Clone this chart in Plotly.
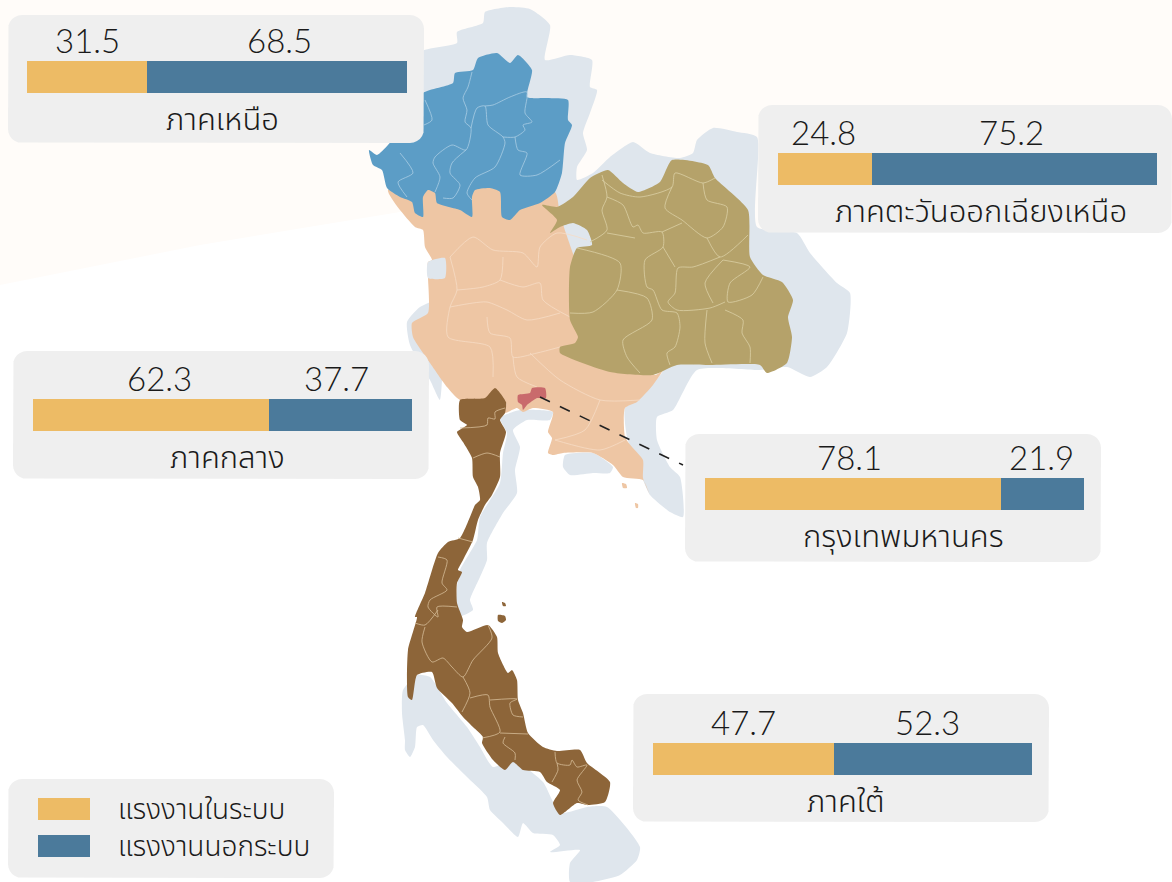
import math
import plotly.graph_objects as go

# ---------- chart values ----------
REGIONS = ["ภาคเหนือ", "ภาคตะวันออกเฉียงเหนือ", "ภาคกลาง", "กรุงเทพมหานคร", "ภาคใต้"]
FORMAL = [31.5, 24.8, 62.3, 78.1, 47.7]
INFORMAL = [68.5, 75.2, 37.7, 21.9, 52.3]
SERIES_NAMES = ["แรงงานในระบบ", "แรงงานนอกระบบ"]

FONT = "Lato, 'Noto Sans Thai', 'Noto Sans', sans-serif"
GOLD, BLUE = "#edbb65", "#4b7a9b"
PANEL = "#efefef"
TEXT = "#1a1a1a"

# ---------- layout boxes (pixels of the 1172x882 page) ----------
W, H = 1172, 882
PANELS = [(8, 15, 424, 143), (758, 105, 1172, 233), (13, 351, 429, 479),
          (685, 434, 1101, 562), (633, 694, 1049, 822)]
BARS = [(27, 61, 407, 93), (778, 153, 1157, 185), (33, 399, 412, 431),
        (705, 478, 1084, 510), (653, 743, 1032, 775)]
LABEL_SHIFT = [(1, 3), (-2, -3), (8, -4), (-4, -1), (0, -5)]
TITLE_SHIFT = [5, 13, 5, 9, 3]

# ---------- map outlines, in page pixels ----------
GREY_MAIN = [(420,52),(457,43),(457,32),(483,23),(485,12),(510,7),(530,9),(550,25),(545,60),(570,55),
    (592,60),(590,87),(597,90),(590,113),(583,133),(587,150),(577,167),(577,180),(593,173),(610,157),
    (633,142),(650,153),(680,158),(693,153),(697,140),(713,128),(737,132),(757,137),(757,227),(797,233),
    (810,253),(837,283),(850,293),(847,333),(827,367),(810,377),(787,367),(760,370),(697,370),(673,410),
    (657,417),(657,440),(670,467),(680,477),(683,517),(670,512),(650,495),(643,480),(627,437),(625,408),
    (637,400),(653,383),(663,370),(600,300),(450,200),(400,100)]
GREY_WEST = [(407,322),(420,307),(440,300),(440,400),(430,380),(410,345)]
GREY_LAKE = [(428,262),(445,258),(445,278),(428,278)]
GREY_ISTHMUS = [(500,418),(520,410),(553,412),(550,420),(527,420),(513,430),(520,447),(515,470),(517,493),
    (503,513),(487,543),(487,560),(480,577),(470,600),(473,610),(457,617),(457,587),(460,570),(477,540),
    (480,517),(500,483),(503,453),(507,433)]
GREY_GULF = [(565,455),(593,453),(613,467),(610,473),(593,473),(570,475),(563,467)]
GREY_SOUTH = [(403,690),(417,675),(430,677),(447,703),(467,727),(480,747),(493,767),(513,760),(543,782),
    (560,813),(587,807),(607,807),(640,847),(637,860),(620,875),(593,882),(570,882),(570,863),(580,850),
    (550,852),(560,845),(553,835),(533,833),(523,823),(518,837),(503,823),(490,810),(487,797),(467,777),
    (447,757),(433,740),(423,725),(417,727),(415,747),(410,757),(405,750),(405,740),(402,713)]
CENTRAL = [(388,190),(415,227),(423,230),(425,247),(432,260),(428,262),(428,277),(428,313),(412,323),(413,337),
    (430,363),(447,387),(460,400),(506,403),(505,413),(517,408),(523,412),(533,408),(553,412),(548,432),
    (552,438),(548,453),(553,455),(563,453),(593,453),(613,465),(623,477),(643,480),(650,495),(643,478),
    (643,460),(632,447),(625,437),(625,408),(637,402),(653,385),(663,370),(655,375),(600,320),(560,215),
    (555,192),(470,180)]
CENTRAL_ISLE_A = [(622,483),(626,484),(627,488),(623,488)]
CENTRAL_ISLE_B = [(635,503),(638,504),(638,508),(636,508)]
NORTH = [(369,150),(377,155),(388,145),(400,130),(423,93),(453,83),(455,73),(473,70),(478,58),(497,53),(510,63),
    (518,55),(532,70),(527,97),(547,98),(568,100),(568,120),(572,125),(565,143),(562,173),(555,192),
    (540,203),(520,210),(510,220),(502,217),(500,192),(490,188),(475,190),(472,197),(472,217),(460,210),
    (437,203),(435,193),(428,190),(423,197),(423,217),(415,213),(412,202),(400,197),(387,188),(382,170),(373,165)]
NORTHEAST = [(542,205),(557,207),(573,197),(590,178),(608,170),(623,183),(638,192),(660,182),(672,160),(708,165),
    (715,178),(748,210),(750,257),(763,275),(782,282),(793,300),(788,317),(792,337),(787,363),(767,373),
    (760,365),(710,365),(677,365),(653,375),(610,372),(560,353),(560,347),(575,343),(578,337),(570,320),
    (570,267),(577,248),(592,245),(587,230),(573,223),(560,227),(550,233),(557,220)]
SOUTH = [(460,400),(485,398),(495,388),(506,402),(505,413),(500,420),(506,432),(500,453),(500,477),(492,495),
    (485,505),(478,520),(473,540),(463,560),(458,570),(462,572),(457,583),(457,603),(463,620),(462,627),
    (467,632),(488,625),(497,637),(498,653),(508,673),(512,670),(517,680),(518,700),(523,713),(528,733),
    (543,747),(557,751),(580,750),(587,763),(610,782),(605,802),(588,805),(577,803),(560,815),(553,803),
    (560,790),(547,782),(540,772),(523,770),(513,762),(505,770),(493,760),(482,743),(483,737),(473,727),
    (463,717),(452,703),(437,688),(432,672),(417,675),(412,700),(408,697),(408,650),(417,617),(415,617),
    (425,593),(438,553),(448,542),(460,538),(470,517),(475,505),(480,500),(478,487),(473,477),(472,458),
    (463,442),(457,432),(467,425),(460,420)]
SOUTH_ISLE_A = [(502,602),(505,603),(506,606),(503,606)]
SOUTH_ISLE_B = [(498,615),(505,616),(506,620),(502,623),(498,621)]
BANGKOK = [(518,395),(530,393),(532,388),(545,388),(546,398),(537,398),(527,405),(523,410),(522,405),(518,402)]
LEADER = [(540,397),(683,465)]

NORTH_LINES = [
    [(472,72),(468,87),(463,98),(467,110),(465,122),(471,128),(466,150),(452,145),(435,157),(433,163),(440,177),(435,192)],
    [(471,128),(477,108),(485,106),(488,125),(503,137),(505,143),(495,167),(475,178),(467,193),(472,200)],
    [(485,106),(493,105),(510,97),(527,92),(525,113),(532,122),(523,125),(525,130),(515,137),(503,137)],
    [(515,137),(518,150),(527,153),(520,175),(537,175),(560,160)],
    [(466,150),(452,163),(450,173),(460,185),(453,198),(443,198)],
    [(400,153),(413,173),(398,182),(407,197)],
    [(425,100),(432,120),(424,125)],
]
NORTHEAST_LINES = [
    [(602,175),(607,197),(602,210),(607,230),(590,242)],
    [(607,197),(623,205),(633,227),(638,225),(643,233),(662,232),(663,247),(645,260),(647,287),(653,290),
     (662,310),(677,313),(680,327),(675,347),(667,353),(670,365)],
    [(607,233),(635,238)],
    [(602,180),(620,193),(640,197),(672,187),(675,173),(703,183),(715,178)],
    [(672,187),(665,208),(682,220),(707,238),(723,227),(727,207),(707,200),(703,183)],
    [(662,232),(682,223)],
    [(707,238),(720,257),(748,235)],
    [(720,257),(693,267),(678,268),(675,293),(668,302),(677,310),(710,308),(725,302)],
    [(663,247),(675,267)],
    [(723,260),(750,267),(730,283),(728,302),(752,295),(763,277)],
    [(723,260),(705,283),(713,303)],
    [(577,248),(620,263),(617,290),(593,312),(570,313)],
    [(617,290),(647,298),(652,320),(623,340),(627,357),(640,373)],
    [(707,310),(705,343),(712,363)],
    [(725,310),(743,320),(742,333),(750,347),(750,363)],
]
CENTRAL_LINES = [
    [(450,257),(473,237),(493,250),(523,253),(537,267),(540,247),(557,233),(587,240)],
    [(450,257),(457,290),(450,307),(448,337),(490,347),(493,377)],
    [(457,290),(483,287),(500,280),(503,257)],
    [(500,280),(523,287),(540,283),(543,300),(570,317)],
    [(450,307),(473,303),(487,302),(507,310),(527,320),(560,313)],
    [(487,317),(490,333),(510,338),(513,357),(537,353),(560,347)],
    [(513,357),(517,377),(537,387)],
    [(530,353),(560,380),(600,400),(640,400)],
    [(600,400),(585,430),(555,440)],
    [(555,440),(600,450),(625,440)],
]
SOUTH_LINES = [
    [(460,428),(487,425),(488,418),(495,419),(495,412),(505,408)],
    [(473,458),(487,453),(500,457)],
    [(458,538),(473,542)],
    [(438,557),(447,560),(442,583),(447,590),(430,600),(428,607),(438,617),(437,607),(457,607)],
    [(438,610),(425,625),(415,623)],
    [(425,627),(422,642),(432,662),(443,658),(452,667),(463,677),(473,660),(492,638),(488,625)],
    [(463,677),(470,693),(462,712)],
    [(470,698),(488,695),(490,707),(500,732),(482,738)],
    [(490,700),(517,699),(510,703),(513,715),(523,717)],
    [(500,733),(528,734)],
    [(505,737),(503,743),(515,753),(515,760)],
    [(555,752),(557,763),(570,765),(572,760),(577,767),(587,765),(577,780),(582,792),(578,800),(588,805)],
    [(557,763),(558,770),(552,782)],
]
TINT = [(0,0),(1172,0),(1172,190),(1000,208),(800,228),(600,235),(400,212),(200,245),(0,285)]


def rounded(box, r=14, n=6):
    x0, y0, x1, y1 = box
    pts = []
    for cx, cy, a0 in [(x1-r, y0+r, -90), (x1-r, y1-r, 0), (x0+r, y1-r, 90), (x0+r, y0+r, 180)]:
        for i in range(n + 1):
            a = math.radians(a0 + 90 * i / n)
            pts.append((cx + r * math.cos(a), cy + r * math.sin(a)))
    return pts


def fill(fig, pts, color, smooth=True):
    line = dict(width=0, shape="spline", smoothing=0.55) if smooth else dict(width=0)
    fig.add_trace(go.Scatter(x=[p[0] for p in pts] + [pts[0][0]], y=[p[1] for p in pts] + [pts[0][1]],
                             mode="lines", fill="toself", fillcolor=color, line=line,
                             hoverinfo="skip", showlegend=False, xaxis="x", yaxis="y"))


def lines(fig, groups, color):
    for g in groups:
        fig.add_trace(go.Scatter(x=[p[0] for p in g], y=[p[1] for p in g], mode="lines",
                                 line=dict(color=color, width=0.8, shape="spline", smoothing=0.7),
                                 hoverinfo="skip", showlegend=False, xaxis="x", yaxis="y"))


fig = go.Figure()
fill(fig, TINT, "#fffcf9", smooth=False)
for poly in (GREY_MAIN, GREY_WEST, GREY_ISTHMUS, GREY_GULF, GREY_SOUTH):
    fill(fig, poly, "#dfe6ed")
for poly in (CENTRAL, CENTRAL_ISLE_A, CENTRAL_ISLE_B):
    fill(fig, poly, "#eec6a4")
fill(fig, GREY_LAKE, "#dfe6ed")
lines(fig, CENTRAL_LINES, "#f6dcc5")
fill(fig, NORTH, "#5c9dc6")
lines(fig, NORTH_LINES, "#a9cde3")
fill(fig, NORTHEAST, "#b5a26a")
lines(fig, NORTHEAST_LINES, "#dbcfa5")
for poly in (SOUTH, SOUTH_ISLE_A, SOUTH_ISLE_B):
    fill(fig, poly, "#8d6539")
lines(fig, SOUTH_LINES, "#d6bd98")
fill(fig, BANGKOK, "#c96a6c")
fig.add_trace(go.Scatter(x=[p[0] for p in LEADER], y=[p[1] for p in LEADER], mode="lines",
                         line=dict(color="#222222", width=1.6, dash="11px,11px"),
                         hoverinfo="skip", showlegend=False, xaxis="x", yaxis="y"))
for box in PANELS:
    fill(fig, rounded(box), PANEL, smooth=False)
fill(fig, rounded((8, 779, 334, 878)), PANEL, smooth=False)

layout = dict(
    width=W, height=H, margin=dict(l=0, r=0, t=0, b=0), autosize=False,
    paper_bgcolor="white", plot_bgcolor="rgba(0,0,0,0)", showlegend=False,
    barmode="stack", bargap=0, font=dict(family=FONT, color=TEXT),
    xaxis=dict(domain=[0, 1], range=[0, W], visible=False, fixedrange=True),
    yaxis=dict(domain=[0, 1], range=[H, 0], visible=False, fixedrange=True),
)
annotations = []
for i, region in enumerate(REGIONS):
    k = i + 2
    x0, y0, x1, y1 = BARS[i]
    xname, yname = f"x{k}", f"y{k}"
    for name, vals, colour in ((SERIES_NAMES[0], FORMAL, GOLD), (SERIES_NAMES[1], INFORMAL, BLUE)):
        fig.add_trace(go.Bar(x=[vals[i]], y=[0.5], width=[1], orientation="h", name=name,
                             marker=dict(color=colour, line=dict(width=0)),
                             xaxis=xname, yaxis=yname, showlegend=False, hoverinfo="skip"))
    layout[f"xaxis{k}"] = dict(domain=[x0 / W, x1 / W], range=[0, 100], visible=False,
                               anchor=yname, fixedrange=True)
    layout[f"yaxis{k}"] = dict(domain=[1 - y1 / H, 1 - y0 / H], range=[0, 1], visible=False,
                               anchor=xname, fixedrange=True)
    pairs = ((FORMAL[i] / 2, FORMAL[i], LABEL_SHIFT[i][0]),
             (FORMAL[i] + INFORMAL[i] / 2, INFORMAL[i], LABEL_SHIFT[i][1]))
    for cx, val, shift in pairs:
        annotations.append(dict(x=cx, y=1, xref=xname, yref=yname, text=f"{val:.1f}", showarrow=False,
                                xanchor="center", yanchor="middle", yshift=21, xshift=shift,
                                font=dict(size=33, color=TEXT, family=FONT, weight=300)))
    annotations.append(dict(x=50, y=0, xref=xname, yref=yname, text=region, showarrow=False,
                            xanchor="center", yanchor="middle", yshift=-25, xshift=TITLE_SHIFT[i],
                            font=dict(size=31, color=TEXT, family=FONT, weight=300)))

shapes = []
for name, colour, (ya, yb) in zip(SERIES_NAMES, (GOLD, BLUE), ((798, 820), (835, 857))):
    shapes.append(dict(type="rect", xref="x", yref="y", x0=38, x1=90, y0=ya, y1=yb,
                       fillcolor=colour, line=dict(width=0), layer="above"))
    annotations.append(dict(x=116, y=(ya + yb) / 2 - 1, xref="x", yref="y", text=name, showarrow=False,
                            xanchor="left", yanchor="middle",
                            font=dict(size=28, color=TEXT, family=FONT, weight=300)))
layout["annotations"] = annotations
layout["shapes"] = shapes
fig.update_layout(**layout)
fig.write_html("out.html", config=dict(displayModeBar=False),
               post_script="document.body.style.margin='0';")
